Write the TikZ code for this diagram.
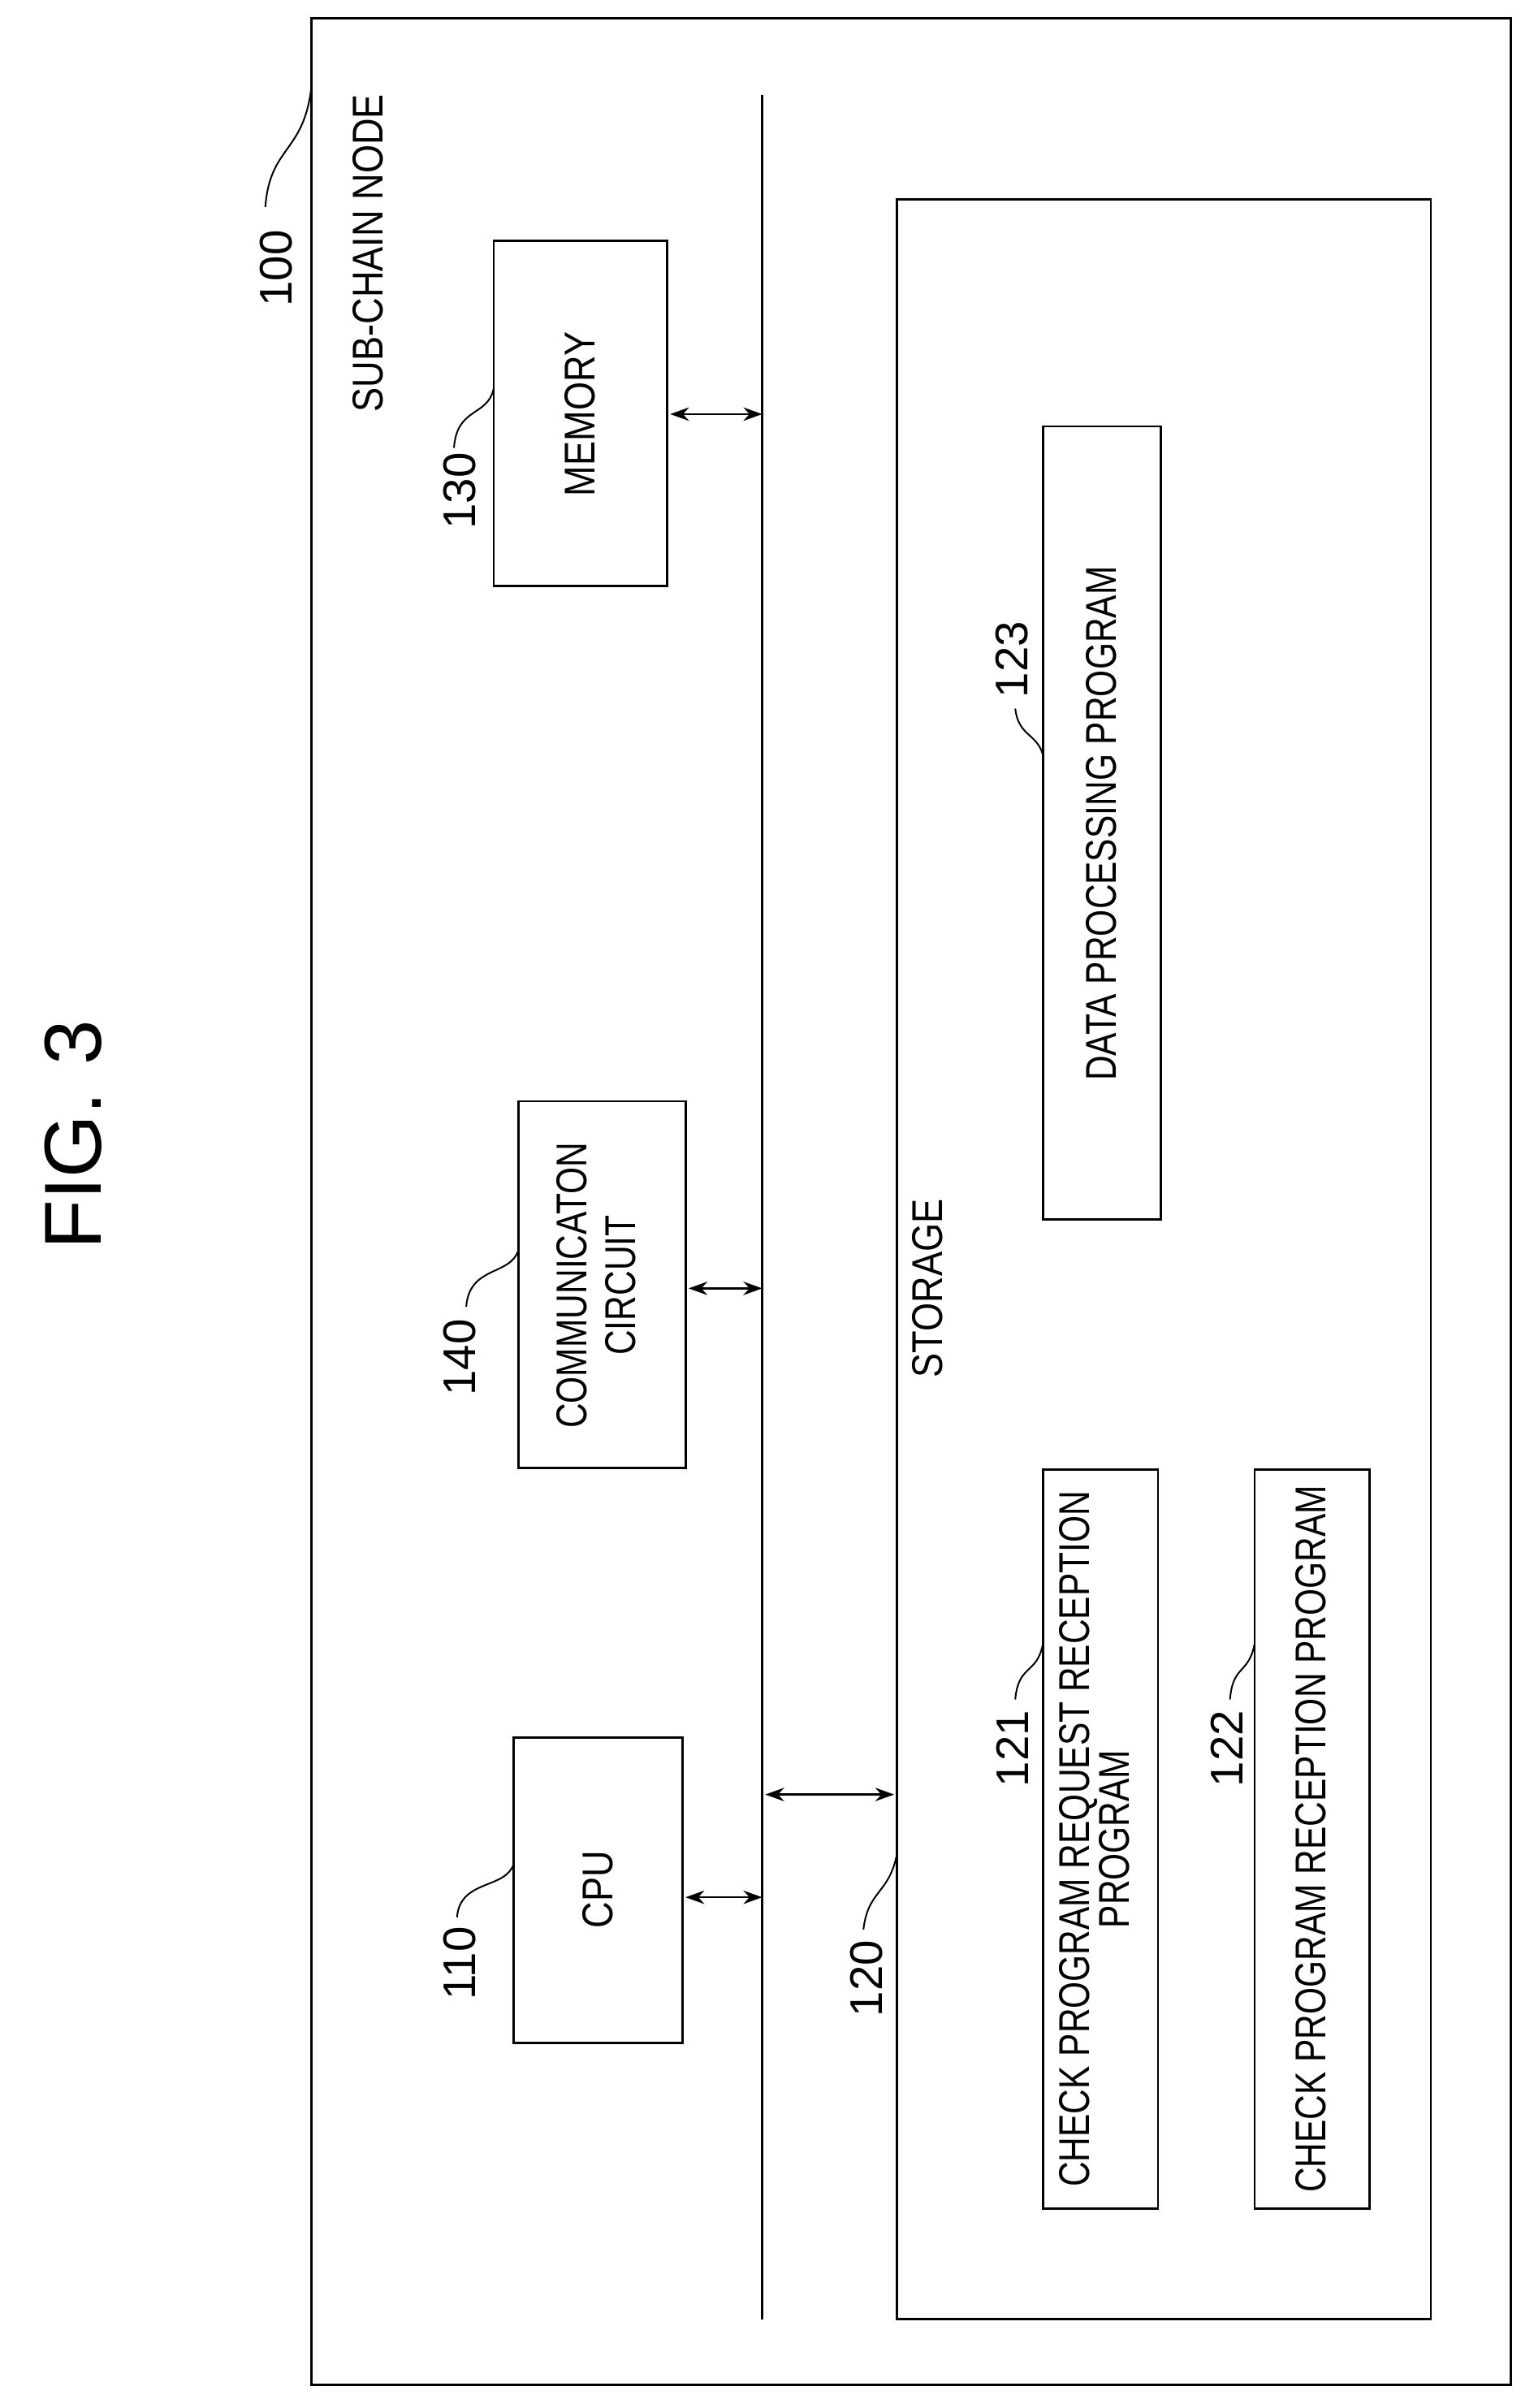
\documentclass[tikz,border=0pt]{standalone}
\usepackage{fontspec}
\setmainfont{Liberation Sans}
\usetikzlibrary{arrows.meta}
\begin{document}
\begin{tikzpicture}[x=0.02cm,y=-0.02cm,line width=0.7pt,
  box/.style={draw,line width=0.8pt},
  txt/.style={rotate=90,font=\fontsize{16}{18}\selectfont,inner sep=0pt},
  num/.style={rotate=90,font=\fontsize{17}{19}\selectfont,inner sep=0pt},
  lead/.style={line width=0.6pt},
  biarrow/.style={{Stealth[length=7pt,width=5pt]}-{Stealth[length=7pt,width=5pt]}}]
\useasboundingbox (0,0) rectangle (1000,1570);
\node[rotate=90,font=\fontsize{30}{34}\selectfont] (fig) at (48,740) {FIG.\,\,3};
% outer
\draw[box] (203,12) rectangle (985,1555);
\node[num] (n100) at (180,175) {100};
\coordinate (c100) at (203,57);
\draw[lead] (173,135) .. controls (176,95) and (198,100) .. (c100);
\node[txt] (sub) at (240,165) {\scalebox{0.85}[1]{SUB-CHAIN NODE}};
% bus
\coordinate (busT) at (497,62);
\coordinate (busB) at (497,1512);
\draw (busT) -- (busB);
% memory
\draw[box] (322,157) rectangle (435,382);
\node[txt] (mem) at (378,270) {\scalebox{0.85}[1]{MEMORY}};
\node[num] (n130) at (300,320) {130};
\draw[lead] (296,292) .. controls (298,265) and (318,272) .. (322,253);
\coordinate (m1) at (437,270); \coordinate (m2) at (497,270);
\draw[biarrow] (m1) -- (m2);
% comm
\draw[box] (338,718) rectangle (447,957);
\node[txt,align=center] (com) at (392,838) {\scalebox{0.8}[1]{\begin{tabular}{@{}c@{}}COMMUNICATON\\CIRCUIT\end{tabular}}};
\node[num] (n140) at (300,885) {140};
\draw[lead] (304,852) .. controls (306,825) and (333,832) .. (338,815);
\coordinate (c1) at (449,840); \coordinate (c2) at (497,840);
\draw[biarrow] (c1) -- (c2);
% cpu
\draw[box] (335,1133) rectangle (445,1332);
\node[txt] (cpu) at (390,1232) {\scalebox{0.85}[1]{CPU}};
\node[num] (n110) at (300,1280) {110};
\draw[lead] (298,1250) .. controls (300,1225) and (330,1232) .. (335,1215);
\coordinate (p1) at (447,1237); \coordinate (p2) at (497,1237);
\draw[biarrow] (p1) -- (p2);
% storage
\draw[box] (585,130) rectangle (933,1512);
\node[txt] (sto) at (605,840) {\scalebox{0.85}[1]{STORAGE}};
\node[num] (n120) at (565,1290) {120};
\draw[lead] (563,1258) .. controls (566,1232) and (580,1235) .. (585,1208);
\coordinate (s1) at (499,1170); \coordinate (s2) at (583,1170);
\draw[biarrow] (s1) -- (s2);
% 123
\draw[box] (680,278) rectangle (757,795);
\node[txt] (dp) at (718,537) {\scalebox{0.8}[1]{DATA PROCESSING PROGRAM}};
\node[num] (n123) at (660,430) {123};
\draw[lead] (662,462) .. controls (664,480) and (676,478) .. (680,492);
% 121
\draw[box] (680,958) rectangle (755,1440);
\node[txt] (cr) at (717,1199) {\scalebox{0.8}[1]{\begin{tabular}{@{}c@{}}CHECK PROGRAM REQUEST RECEPTION\\[-3pt]PROGRAM\end{tabular}}};
\node[num] (n121) at (660,1140) {121};
\draw[lead] (662,1108) .. controls (664,1085) and (676,1092) .. (680,1072);
% 122
\draw[box] (818,958) rectangle (893,1440);
\node[txt] (cp) at (855,1199) {\scalebox{0.8}[1]{CHECK PROGRAM RECEPTION PROGRAM}};
\node[num] (n122) at (800,1140) {122};
\draw[lead] (802,1108) .. controls (804,1085) and (814,1092) .. (818,1072);
\end{tikzpicture}
\end{document}
